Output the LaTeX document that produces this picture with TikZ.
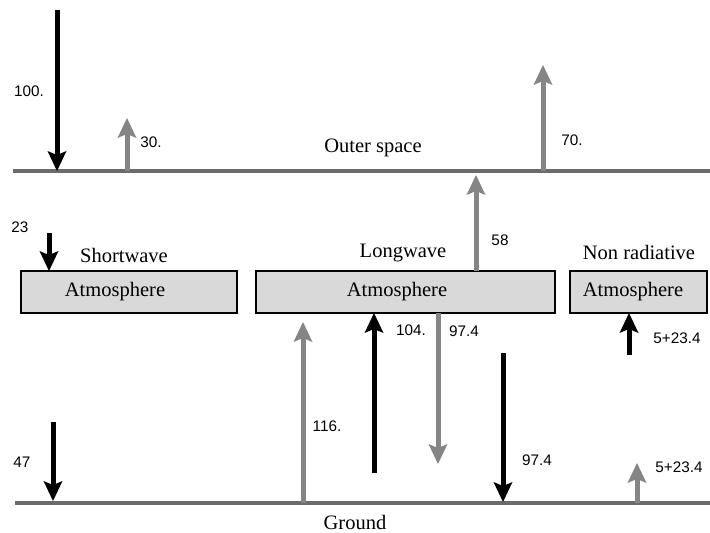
\documentclass[tikz,border=0pt]{standalone}
\usepackage{fontspec}
\setmainfont{Liberation Serif}
\newfontfamily\numfont{Liberation Sans}
\usetikzlibrary{arrows.meta}
\definecolor{lvlgray}{HTML}{6B6B6B}
\definecolor{arrgray}{HTML}{858585}
\definecolor{boxgray}{HTML}{D9D9D9}
\begin{document}
\begin{tikzpicture}[x=1pt,y=-1pt,
  level/.style={draw=lvlgray,line width=4pt},
  tipstyle/.style={-{Stealth[width=19pt,length=20pt,inset=4pt,line width=0pt]}},
  dark/.style={draw=black,line width=5pt,tipstyle},
  light/.style={draw=arrgray,line width=5pt,tipstyle},
  box/.style={draw=black,line width=1.5pt,fill=boxgray,inner sep=0pt,minimum height=42pt},
  serif/.style={font=\fontsize{20.5}{24}\selectfont,inner sep=0pt},
  num/.style={font=\numfont\fontsize{15.3}{18}\selectfont,inner sep=0pt}]
\useasboundingbox (0,0) rectangle (710,533);
% levels
\coordinate (osl) at (13,171);
\coordinate (osr) at (710,171);
\coordinate (grl) at (15,503);
\coordinate (grr) at (710,503);
\draw[level] (osl) -- (osr);
\draw[level] (grl) -- (grr);
\node[serif] (ostext) at (373,148) {Outer space};
\node[serif] (grtext) at (355,522) {Ground};
% boxes
\node[box,minimum width=216pt] (b1) at (129,292) {};
\node[box,minimum width=299pt] (b2) at (405.5,292) {};
\node[box,minimum width=137pt] (b3) at (638.5,292) {};
\node[serif] (t1) at (115,292) {Atmosphere};
\node[serif] (t2) at (397,292) {Atmosphere};
\node[serif] (t3) at (633,292) {Atmosphere};
\node[serif] (sw) at (124,255) {Shortwave};
\node[serif] (lw) at (403,253) {Longwave};
\node[serif] (nr) at (639,252) {Non radiative};
% arrow end points
\coordinate (a100s) at (57,10);   \coordinate (a100e) at (57,171);
\coordinate (a30s) at (127,171);  \coordinate (a30e) at (127,118);
\coordinate (a70s) at (543,171);  \coordinate (a70e) at (543,65);
\coordinate (a23s) at (49,233);   \coordinate (a23e) at (49,271);
\coordinate (a58s) at (476,271);  \coordinate (a58e) at (476,175);
\coordinate (a116s) at (303,503); \coordinate (a116e) at (303,322);
\coordinate (a104s) at (374,473); \coordinate (a104e) at (374,313);
\coordinate (a97gs) at (438,313); \coordinate (a97ge) at (438,464);
\coordinate (a97bs) at (503,353); \coordinate (a97be) at (503,502);
\coordinate (a47s) at (53,422);   \coordinate (a47e) at (53,501);
\coordinate (anrbs) at (629,355); \coordinate (anrbe) at (629,313);
\coordinate (anrgs) at (637,503); \coordinate (anrge) at (637,463);
% arrows
\draw[dark] (a100s) -- (a100e);
\draw[light] (a30s) -- (a30e);
\draw[light] (a70s) -- (a70e);
\draw[dark] (a23s) -- (a23e);
\draw[light] (a58s) -- (a58e);
\draw[light] (a116s) -- (a116e);
\draw[dark] (a104s) -- (a104e);
\draw[light] (a97gs) -- (a97ge);
\draw[dark] (a97bs) -- (a97be);
\draw[dark] (a47s) -- (a47e);
\draw[dark] (anrbs) -- (anrbe);
\draw[light] (anrgs) -- (anrge);
% labels
\node[num] (l100) at (29,91) {100.};
\node[num] (l30) at (151,142) {30.};
\node[num] (l70) at (572,140) {70.};
\node[num] (l23) at (20,227) {23};
\node[num] (l58) at (500,240) {58};
\node[num] (l104) at (411,330) {104.};
\node[num] (l97a) at (464,331) {97.4};
\node[num] (l116) at (327,426) {116.};
\node[num] (l97b) at (537,460) {97.4};
\node[num] (l47) at (22,462) {47};
\node[num] (lnra) at (677,338) {5+23.4};
\node[num] (lnrb) at (679,467) {5+23.4};
\end{tikzpicture}
\end{document}
